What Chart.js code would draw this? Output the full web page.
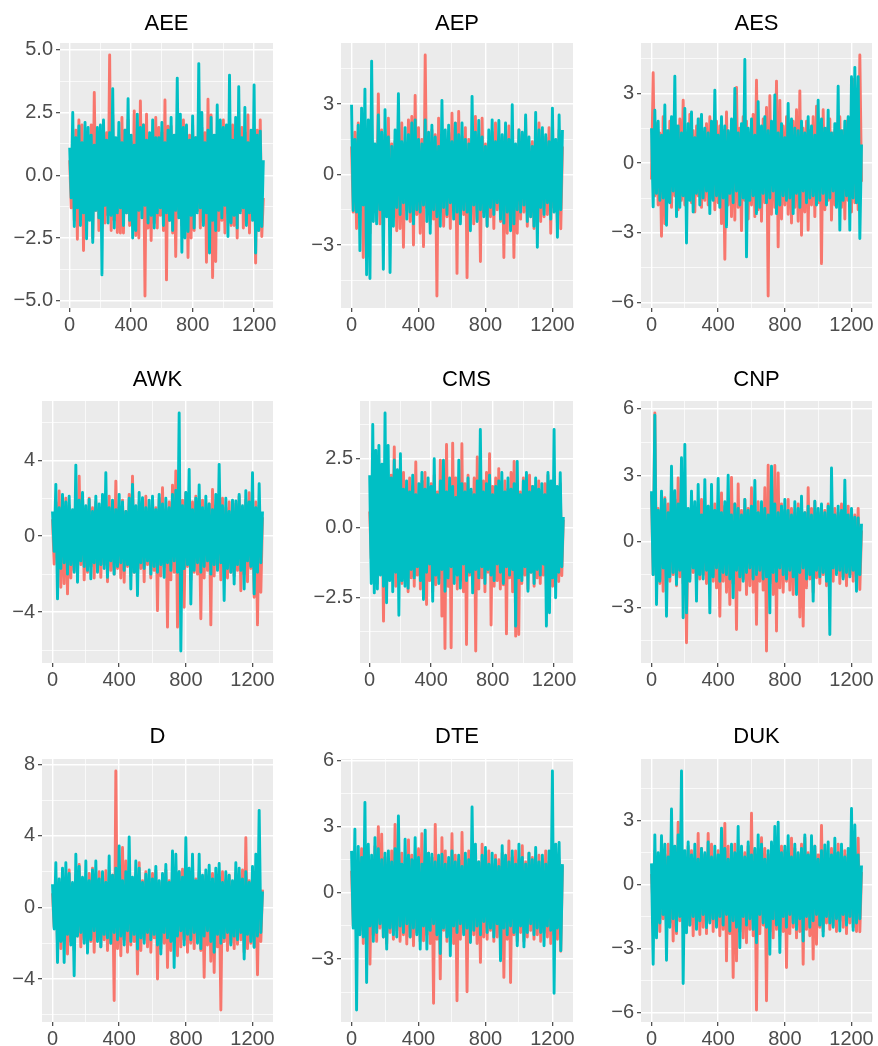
<!DOCTYPE html>
<html>
<head>
<meta charset="utf-8">
<title>Standardised daily residuals</title>
<script src="https://cdn.jsdelivr.net/npm/chart.js@4.4.1/dist/chart.umd.min.js"></script>
<style>
  html, body { margin: 0; padding: 0; background: #ffffff; }
  #page { position: relative; width: 878px; height: 1046px; overflow: hidden; }
  #page canvas { position: absolute; }
</style>
</head>
<body>
<div id="page"></div>
<script>
// Trading-day index of each sample (one sample every 10 sessions).
const days = [0,10,20,30,40,50,60,70,80,90,100,110,120,130,140,150,160,170,180,190,
  200,210,220,230,240,250,260,270,280,290,300,310,320,330,340,350,360,370,380,390,
  400,410,420,430,440,450,460,470,480,490,500,510,520,530,540,550,560,570,580,590,
  600,610,620,630,640,650,660,670,680,690,700,710,720,730,740,750,760,770,780,790,
  800,810,820,830,840,850,860,870,880,890,900,910,920,930,940,950,960,970,980,990,
  1000,1010,1020,1030,1040,1050,1060,1070,1080,1090,1100,1110,1120,1130,1140,1150,1160,1170,1180,1190,
  1200,1210,1220,1230,1240,1250,1260];
const dayTicks = [0, 400, 800, 1200];

// ---- AEE ----
const AEE_s1 = [0.6,-1.3,1.4,-1.8,1.8,-2.55,2.2,-1.5,2.0,-3.0,
  1.3,-2.0,1.6,-1.7,2.0,-2.5,3.3,-1.4,1.5,-2.2,
  1.2,-2.1,1.9,-1.9,1.7,-1.6,4.79,-2.2,2.4,-1.8,
  1.3,-2.28,1.4,-2.3,2.3,-2.3,1.8,-1.5,2.2,-2.0,
  1.3,-1.7,2.56,-2.4,1.6,-2.5,2.96,-1.4,2.0,-4.81,
  2.43,-2.1,1.5,-2.6,1.2,-1.9,2.3,-2.1,1.9,-1.6,
  1.7,-2.2,3.0,-4.17,1.95,-1.8,1.95,-2.3,1.3,-3.24,
  1.4,-1.5,1.8,-2.0,2.2,-1.7,1.3,-3.28,1.6,-2.5,
  2.0,-2.2,1.5,-1.4,1.2,-2.1,1.9,-1.9,1.7,-3.47,
  3.03,-1.6,2.4,-4.08,1.3,-3.44,1.4,-2.2,1.8,-1.8,
  2.2,-2.3,1.3,-1.5,1.6,-2.0,2.0,-2.0,1.5,-2.5,
  1.2,-1.4,1.9,-2.1,1.7,-1.9,2.4,-2.3,1.3,-1.6,
  1.4,-3.5,1.8,-2.2,2.2,-2.44,-0.9];
const AEE_s2 = [1.1,-0.9,2.5,-2.04,1.5,-1.3,1.96,-2.0,1.3,-1.5,
  2.1,-2.53,1.9,-1.8,1.6,-2.68,1.2,-1.4,1.9,-1.7,
  2.0,-3.97,2.2,-1.2,1.4,-1.9,1.7,-1.6,3.45,-2.1,
  1.5,-1.5,2.1,-1.3,1.3,-2.0,1.8,-1.5,3.05,-1.8,
  1.6,-2.5,1.2,-2.2,2.43,-1.4,1.9,-1.7,2.0,-1.2,
  1.4,-1.9,1.7,-1.6,2.2,-2.1,1.5,-1.5,1.5,-1.3,
  2.1,-2.0,1.3,-1.5,1.8,-1.8,2.3,-2.2,1.6,-1.4,
  3.87,-1.7,2.43,-3.07,1.9,-2.5,2.0,-2.24,1.4,-1.6,
  2.36,-2.1,1.5,-1.5,4.45,-1.3,2.5,-2.0,1.3,-1.5,
  1.8,-3.1,2.3,-1.8,1.6,-2.2,2.8,-1.4,2.2,-1.7,
  1.9,-1.2,2.0,-2.44,3.99,-1.9,1.4,-1.6,2.3,-2.1,
  3.53,-1.5,1.5,-1.3,2.7,-2.0,1.3,-1.5,1.8,-1.8,
  3.6,-3.1,1.6,-2.2,1.76,-2.04,0.6];
const AEE_yTicks = [-5, -2.5, 0, 2.5, 5];

// ---- AEP ----
const AEP_s1 = [1.2,-1.6,1.8,-2.3,2.2,-1.5,1.3,-3.53,1.6,-1.7,
  2.0,-2.5,1.5,-1.4,1.2,-2.0,3.43,-2.1,1.9,-1.9,
  1.7,-1.6,2.4,-2.2,1.3,-1.8,1.4,-2.39,1.8,-2.3,
  2.2,-3.1,1.3,-1.5,2.33,-2.0,2.47,-3.0,3.37,-1.7,
  2.0,-2.5,1.5,-3.07,5.09,-1.4,1.2,-2.1,1.9,-1.9,
  1.7,-5.17,2.4,-1.6,1.3,-2.2,1.4,-1.8,1.8,-2.3,
  2.61,-1.5,2.2,-4.21,2.69,-2.0,1.6,-1.7,2.0,-4.39,
  1.5,-1.4,1.2,-2.1,2.47,-1.9,1.7,-3.7,2.4,-1.6,
  1.3,-2.2,1.4,-1.8,1.8,-2.3,2.2,-1.5,1.3,-2.0,
  1.6,-3.53,2.0,-2.5,2.07,-1.4,1.5,-3.53,1.2,-2.5,
  1.9,-1.9,1.7,-1.6,2.4,-2.2,1.3,-1.8,1.4,-2.3,
  1.8,-1.5,2.2,-2.0,1.3,-1.8,1.6,-1.7,2.0,-2.5,
  1.5,-1.4,1.2,-2.1,1.9,-2.31,1.2];
const AEP_s2 = [2.97,-1.53,1.5,-1.6,2.1,-3.24,2.83,-1.3,3.64,-4.27,
  2.33,-4.43,4.83,-2.0,1.3,-2.1,2.54,-1.5,1.8,-4.03,
  2.76,-1.8,1.6,-4.17,1.2,-2.2,1.9,-1.4,3.44,-1.7,
  1.4,-1.2,2.0,-1.9,1.7,-1.6,2.2,-2.1,2.33,-1.5,
  1.5,-1.6,1.3,-1.3,2.33,-2.0,1.8,-2.5,2.1,-1.5,
  1.6,-1.8,1.2,-2.2,3.16,-1.4,1.9,-1.7,2.1,-1.2,
  1.4,-1.9,2.19,-1.6,1.7,-2.1,2.2,-1.5,1.5,-1.6,
  1.3,-2.39,3.33,-1.3,1.8,-2.0,2.3,-1.5,1.6,-1.8,
  1.2,-2.2,1.9,-1.4,2.33,-1.7,1.4,-1.2,2.3,-1.9,
  1.7,-2.07,2.2,-1.6,1.5,-2.39,2.97,-2.1,1.3,-1.5,
  1.9,-1.6,1.8,-1.3,2.54,-2.0,1.6,-1.8,1.2,-2.2,
  2.64,-3.1,1.9,-1.4,2.0,-1.7,1.7,-1.2,1.4,-1.9,
  2.83,-1.6,1.5,-2.67,2.54,-1.5,1.9];
const AEP_yTicks = [-3, 0, 3];

// ---- AES ----
const AES_s1 = [-0.7,3.89,-1.4,1.7,-1.8,1.3,-3.14,2.0,-2.6,1.4,
  -1.5,1.8,-1.9,1.2,-1.4,1.6,-2.0,1.9,-1.6,2.71,
  -1.8,1.3,-1.5,2.1,-1.7,1.4,-2.1,1.6,-1.4,1.9,
  -1.9,1.2,-1.6,1.7,-1.8,2.0,-1.5,1.3,-2.0,1.8,
  -1.7,1.6,-2.6,1.4,-4.13,2.2,-1.8,1.3,-2.3,1.7,
  -2.45,3.26,-1.9,1.5,-2.9,2.0,-1.6,1.8,-2.4,1.3,
  -1.8,2.1,-2.3,3.57,-2.0,1.4,-2.5,1.9,-1.7,2.4,
  -5.71,2.9,-2.2,1.5,-1.9,3.53,-3.6,2.7,-2.4,1.6,
  -1.8,2.0,-2.2,1.3,-2.57,1.8,-1.9,2.3,-2.5,3.11,
  -3.1,1.5,-2.1,1.8,-2.88,1.4,-1.8,2.0,-2.3,2.45,
  -1.7,1.6,-4.32,2.3,-2.0,1.5,-1.6,1.9,-2.45,1.3,
  -1.8,1.7,-1.5,2.0,-1.9,1.4,-2.4,1.8,-1.6,1.5,
  -2.1,3.6,-1.7,1.9,-2.0,4.65,-0.8];
const AES_s2 = [1.5,-1.88,2.28,-1.3,1.8,-1.6,1.2,-1.5,2.5,-2.67,
  1.4,-1.7,2.0,-1.2,3.74,-2.3,1.6,-1.9,1.3,-1.4,
  2.35,-3.43,1.7,-1.6,2.2,-2.1,1.1,-1.3,1.9,-1.8,
  2.1,-1.5,1.5,-1.2,1.3,-2.17,1.8,-1.6,3.14,-1.4,
  1.2,-1.9,2.0,-1.5,1.6,-2.74,1.4,-1.3,1.9,-1.7,
  3.21,-1.2,1.3,-1.8,1.7,-1.5,4.46,-4.03,1.5,-1.6,
  1.9,-1.4,1.2,-2.17,2.64,-1.9,1.6,-1.3,2.0,-1.7,
  1.4,-1.5,1.8,-1.2,2.93,-2.17,1.3,-1.8,1.7,-1.4,
  1.1,-1.6,2.57,-1.5,1.9,-2.17,1.5,-1.3,1.4,-1.9,
  1.8,-1.2,1.3,-1.7,2.0,-1.5,1.6,-1.4,1.2,-1.8,
  2.71,-1.6,1.9,-1.3,1.5,-1.8,2.28,-1.5,1.3,-1.2,
  1.7,-1.9,3.31,-2.88,1.4,-1.6,1.8,-1.4,2.0,-2.88,
  3.72,-1.5,4.12,-1.7,3.72,-3.24,0.8];
const AES_yTicks = [-6, -3, 0, 3];

// ---- AWK ----
const AWK_s1 = [0.9,-1.47,1.8,-1.6,2.38,-2.69,1.4,-2.5,2.0,-3.04,
  1.6,-2.2,1.3,-1.8,1.9,-2.0,3.16,-1.5,2.1,-2.3,
  1.4,-1.9,2.0,-1.6,1.5,-2.2,1.8,-1.7,1.3,-2.17,
  1.9,-1.5,1.6,-2.4,2.1,-1.8,1.4,-2.0,2.9,-1.7,
  1.5,-2.2,1.9,-2.43,1.3,-1.6,2.2,-2.1,3.16,-1.9,
  1.4,-2.3,1.8,-1.7,1.6,-2.4,2.1,-1.5,1.3,-2.2,
  1.9,-1.8,1.5,-3.92,2.0,-2.1,2.55,-1.6,1.4,-4.79,
  1.8,-2.3,2.69,-1.9,3.43,-4.79,1.6,-2.2,1.9,-3.74,
  2.29,-1.6,1.4,-2.3,1.8,-1.9,2.1,-2.0,1.5,-4.35,
  1.9,-2.2,1.3,-1.8,1.7,-4.67,2.46,-2.1,1.6,-1.7,
  1.4,-2.3,2.0,-1.6,1.5,-2.2,1.8,-1.9,1.3,-2.1,
  1.7,-1.8,2.1,-2.87,1.4,-2.0,1.9,-2.4,2.29,-1.7,
  1.5,-3.22,1.8,-4.67,1.6,-2.95,1.0];
const AWK_s2 = [1.3,-0.8,2.73,-3.3,1.5,-1.7,2.2,-1.4,1.8,-2.0,
  2.1,-1.5,1.4,-1.9,3.74,-2.43,1.9,-1.3,2.3,-1.6,
  1.6,-1.8,1.94,-2.25,1.3,-1.4,2.1,-1.9,1.7,-1.5,
  2.2,-1.7,3.34,-2.17,1.5,-1.3,1.9,-2.0,1.4,-1.6,
  2.2,-1.4,1.8,-1.8,1.3,-1.5,2.0,-2.78,2.73,-1.9,
  1.6,-3.13,2.3,-1.4,2.03,-1.7,1.5,-1.3,1.9,-2.0,
  2.1,-1.6,1.4,-1.9,2.2,-1.5,1.7,-2.17,2.0,-1.4,
  1.5,-1.8,2.2,-1.3,2.41,-1.9,6.49,-6.05,1.6,-1.7,
  2.3,-1.5,3.51,-3.57,1.4,-1.8,2.0,-1.4,2.7,-1.9,
  1.5,-1.6,2.1,-1.3,1.7,-2.0,1.4,-1.5,2.2,-1.8,
  3.78,-1.4,1.6,-3.39,2.0,-1.7,1.3,-1.9,1.9,-2.52,
  1.85,-1.5,2.2,-1.8,1.6,-2.78,2.4,-1.3,1.8,-1.6,
  3.34,-3.04,1.5,-1.9,2.76,-1.4,1.3];
const AWK_yTicks = [-4, 0, 4];

// ---- CMS ----
const CMS_s1 = [0.6,-1.1,1.4,-1.7,1.8,-2.0,1.66,-1.6,1.3,-3.36,
  1.7,-2.2,1.2,-1.8,1.9,-1.5,2.92,-2.1,1.4,-1.7,
  1.6,-2.0,2.0,-1.6,1.3,-2.3,1.8,-1.8,1.5,-2.1,
  2.38,-1.7,1.2,-2.2,1.7,-1.5,2.0,-2.76,1.4,-1.9,
  1.6,-2.3,1.9,-2.05,1.3,-1.8,2.44,-3.18,1.7,-4.35,
  3.01,-2.1,1.5,-4.32,3.06,-1.6,1.8,-2.2,1.4,-1.9,
  3.04,-2.3,1.6,-4.2,1.9,-1.7,1.3,-2.0,1.8,-4.44,
  2.56,-2.2,1.4,-1.8,1.7,-2.3,2.0,-1.6,2.68,-3.5,
  1.5,-2.1,1.8,-1.9,2.14,-2.2,1.3,-2.05,1.7,-3.82,
  1.4,-1.8,2.0,-2.3,2.4,-3.9,1.6,-3.84,1.3,-2.0,
  1.8,-1.7,1.4,-2.2,1.9,-1.6,1.5,-2.1,1.3,-1.8,
  1.7,-2.0,1.2,-1.7,1.6,-2.2,1.9,-1.5,1.4,-2.1,
  1.5,-1.8,1.3,-1.93,1.6,-1.72,0.3];
const CMS_s2 = [1.9,-2.0,3.73,-2.34,2.8,-2.2,2.98,-1.7,2.3,-2.1,
  4.15,-2.7,2.98,-1.9,1.8,-2.3,2.44,-1.6,2.1,-3.15,
  2.68,-1.9,1.4,-2.1,1.7,-2.17,1.3,-1.5,1.9,-1.8,
  1.2,-1.4,1.6,-1.9,2.0,-2.58,1.4,-1.6,1.8,-1.3,
  1.5,-2.64,2.5,-1.7,1.2,-2.0,1.7,-1.5,2.44,-2.28,
  1.3,-1.8,1.8,-1.4,1.5,-2.0,1.1,-1.7,2.44,-2.17,
  1.6,-1.3,1.3,-1.9,1.8,-1.6,1.4,-2.34,1.2,-1.5,
  1.7,-1.8,3.55,-1.4,1.3,-2.0,1.6,-1.5,1.9,-1.7,
  1.2,-1.9,1.5,-1.3,1.7,-1.6,2.0,-2.0,1.3,-1.4,
  1.8,-1.7,1.4,-1.5,1.6,-3.54,2.4,-1.8,1.2,-1.9,
  1.7,-1.4,2.0,-2.28,1.3,-1.6,1.5,-2.0,1.8,-1.5,
  1.4,-1.7,1.6,-1.3,1.2,-3.54,2.0,-3.06,1.7,-1.8,
  3.55,-2.52,1.5,-1.6,1.99,-1.4,0.4];
const CMS_yTicks = [-2.5, 0, 2.5];

// ---- CNP ----
const CNP_s1 = [2.13,-1.5,5.82,-1.6,1.5,-1.9,1.2,-2.25,1.98,-1.4,
  1.7,-1.8,1.3,-1.5,1.9,-2.0,2.88,-1.6,1.4,-1.9,
  1.6,-4.58,1.2,-1.7,1.8,-1.4,1.5,-2.0,1.3,-1.7,
  1.9,-1.5,1.4,-1.9,1.6,-1.6,1.2,-1.8,1.7,-2.1,
  1.4,-3.38,2.2,-1.8,1.6,-2.3,1.3,-2.85,2.9,-1.9,
  1.7,-3.98,2.6,-2.2,1.4,-1.7,1.9,-2.4,1.5,-2.0,
  2.43,-2.3,1.3,-3.75,1.8,-1.8,1.5,-2.2,2.43,-4.96,
  3.45,-1.9,1.6,-2.4,3.44,-4.05,3.1,-2.1,1.7,-2.3,
  1.4,-1.8,1.9,-2.2,1.5,-2.4,1.3,-1.9,1.7,-3.42,
  1.6,-3.83,1.3,-2.1,2.43,-1.7,1.5,-2.3,1.8,-1.64,
  1.3,-1.9,1.6,-1.5,1.4,-2.0,1.7,-1.6,1.2,-1.8,
  1.5,-1.4,1.3,-1.9,1.7,-1.6,1.2,-2.0,1.6,-1.5,
  1.4,-1.8,1.2,-1.7,1.5,-2.17,0.5];
const CNP_s2 = [2.28,-1.5,5.72,-2.85,1.4,-1.8,2.28,-1.2,1.9,-3.38,
  1.3,-1.6,3.41,-1.4,2.3,-1.95,1.7,-1.3,3.79,-3.45,
  4.39,-3.23,1.5,-1.8,2.28,-1.2,1.8,-2.7,2.58,-1.5,
  1.2,-1.7,2.8,-1.3,1.6,-3.23,2.58,-1.6,1.4,-1.2,
  2.85,-1.8,1.3,-1.4,1.8,-1.5,3.0,-1.7,1.2,-2.55,
  1.7,-1.3,1.5,-1.6,1.2,-1.8,1.9,-1.4,1.4,-1.2,
  1.6,-1.7,2.76,-1.5,1.3,-1.3,1.8,-1.7,1.5,-1.6,
  1.2,-3.23,3.41,-1.4,1.7,-1.8,1.3,-1.2,1.6,-1.5,
  1.9,-1.7,1.4,-1.3,1.2,-1.6,1.8,-2.4,1.5,-1.4,
  2.05,-1.2,1.3,-1.7,1.6,-1.5,1.2,-2.7,1.82,-1.3,
  1.5,-1.6,1.7,-1.4,1.3,-1.8,1.6,-4.21,3.33,-1.2,
  1.2,-1.5,1.6,-1.3,1.4,-1.7,2.78,-1.4,1.2,-1.6,
  1.5,-1.3,1.1,-2.25,1.07,-1.5,0.8];
const CNP_yTicks = [-3, 0, 3, 6];

// ---- D ----
const D_s1 = [0.8,-1.1,1.7,-2.0,1.4,-2.3,1.9,-1.7,1.5,-2.6,
  2.1,-1.9,1.3,-2.4,1.8,-1.6,2.4,-2.2,1.6,-1.8,
  1.4,-2.3,1.9,-1.9,2.2,-2.5,1.5,-1.7,2.0,-2.2,
  1.7,-1.8,2.05,-2.4,1.4,-2.0,1.8,-5.2,7.63,-2.3,
  1.6,-2.7,3.35,-1.8,2.6,-2.5,1.9,-2.1,1.4,-1.9,
  1.8,-3.72,2.5,-2.4,1.5,-1.8,2.0,-2.2,1.6,-2.5,
  1.9,-1.7,2.05,-4.0,1.4,-2.3,1.7,-2.0,2.1,-3.35,
  1.5,-2.4,1.8,-1.9,1.6,-2.7,2.0,-2.2,2.14,-1.8,
  1.7,-2.5,1.4,-2.0,1.9,-2.3,1.6,-1.7,2.0,-2.4,
  1.5,-3.9,1.8,-2.1,1.4,-3.0,1.9,-3.63,1.6,-2.2,
  1.7,-5.73,2.0,-1.9,1.5,-2.4,1.8,-2.0,1.4,-2.3,
  1.9,-2.05,1.6,-1.8,2.1,-2.5,3.9,-2.3,1.5,-2.0,
  1.8,-2.2,1.4,-3.76,1.7,-1.9,1.0];
const D_s2 = [1.3,-1.2,2.5,-3.07,1.6,-1.9,2.2,-3.07,2.5,-1.5,
  1.9,-2.1,1.4,-3.81,2.98,-1.6,2.3,-1.4,1.7,-2.0,
  2.6,-2.55,1.5,-1.8,2.1,-1.3,2.6,-1.9,1.6,-2.2,
  2.0,-1.5,1.4,-1.7,2.88,-2.0,1.8,-1.4,2.2,-1.8,
  3.44,-1.6,1.5,-2.1,2.0,-1.3,3.94,-1.9,1.7,-1.5,
  2.6,-2.32,2.2,-1.7,1.4,-2.0,1.86,-1.4,2.1,-1.8,
  1.6,-1.5,2.3,-2.1,1.5,-2.6,1.9,-1.4,2.4,-1.7,
  1.4,-1.9,3.16,-3.35,2.98,-1.6,2.0,-1.3,1.7,-2.1,
  3.9,-1.5,2.2,-1.8,2.98,-1.4,1.5,-2.0,2.98,-2.3,
  1.8,-1.6,2.1,-1.3,2.36,-1.9,1.6,-2.5,2.2,-1.5,
  2.46,-2.0,1.4,-1.7,2.0,-1.4,1.8,-2.1,1.5,-1.6,
  2.5,-1.8,2.2,-1.4,1.6,-2.88,2.0,-1.5,1.4,-1.9,
  2.3,-2.23,2.98,-1.6,5.43,-1.4,0.9];
const D_yTicks = [-4, 0, 4, 8];

// ---- DTE ----
const DTE_s1 = [1.0,-1.5,1.8,-2.1,1.4,-1.7,2.0,-2.3,1.5,-1.8,
  1.7,-3.23,1.3,-1.9,2.1,-2.2,2.99,-1.6,2.65,-2.0,
  1.6,-2.3,1.4,-1.8,1.9,-2.1,3.1,-1.7,1.5,-2.2,
  1.8,-1.9,1.3,-2.32,2.4,-2.0,1.7,-2.4,1.5,-1.8,
  2.0,-2.2,2.68,-2.17,1.4,-1.9,1.8,-2.3,1.6,-5.0,
  3.1,-2.1,1.5,-3.9,2.5,-1.7,1.9,-2.2,1.4,-2.0,
  2.68,-2.3,1.7,-4.89,1.5,-2.1,2.73,-1.8,1.3,-4.48,
  1.9,-2.2,1.5,-1.9,1.8,-2.3,1.4,-3.15,2.2,-2.0,
  1.6,-2.1,1.9,-1.7,1.3,-2.2,1.7,-2.0,1.5,-2.3,
  1.8,-3.83,1.4,-2.1,2.35,-4.06,1.6,-1.9,1.9,-2.2,
  1.5,-1.8,2.13,-2.2,1.4,-2.0,1.8,-1.7,1.6,-2.1,
  1.3,-1.9,1.7,-2.2,1.5,-1.8,1.9,-2.0,1.4,-2.3,
  1.6,-1.9,1.8,-2.1,1.5,-2.65,1.2];
const DTE_s2 = [1.9,-1.6,2.88,-5.31,2.1,-1.9,1.6,-2.0,4.09,-4.06,
  2.2,-1.5,1.7,-2.2,2.5,-1.8,2.0,-1.4,1.5,-2.0,
  1.8,-2.55,1.9,-1.6,1.4,-1.9,2.0,-2.0,3.48,-1.5,
  1.3,-1.8,2.43,-1.4,1.7,-2.0,1.5,-1.6,2.5,-1.9,
  1.6,-2.55,1.3,-1.5,2.84,-2.55,1.8,-1.7,1.75,-1.4,
  1.4,-1.9,1.7,-2.75,1.75,-1.6,1.3,-2.0,1.6,-2.85,
  1.9,-1.5,1.4,-1.8,1.7,-1.4,1.2,-1.9,1.8,-1.6,
  1.5,-2.25,3.89,-1.7,2.2,-1.5,1.4,-1.9,1.7,-1.3,
  2.05,-1.8,1.3,-1.6,1.8,-2.0,1.5,-1.4,1.2,-3.08,
  2.13,-1.6,1.7,-1.9,1.4,-1.5,1.9,-1.8,1.3,-2.4,
  2.2,-1.5,1.6,-2.45,1.3,-1.8,1.8,-1.4,1.5,-1.9,
  2.05,-1.6,1.4,-1.8,1.7,-2.4,1.3,-1.5,1.9,-1.7,
  5.52,-4.55,2.2,-1.6,2.28,-2.62,1.3];
const DTE_yTicks = [-3, 0, 3, 6];

// ---- DUK ----
const DUK_s1 = [0.5,-1.2,1.6,-1.9,1.3,-2.2,1.8,-1.6,1.4,-2.1,
  1.9,-1.8,1.2,-2.65,1.7,-2.3,2.93,-1.7,1.5,-2.0,
  1.3,-2.2,1.8,-1.9,1.6,-2.4,1.2,-1.8,2.4,-2.34,
  1.7,-2.0,1.4,-2.3,2.4,-1.7,1.9,-2.2,1.3,-1.9,
  1.6,-2.4,1.2,-2.1,2.88,-3.58,1.8,-2.3,1.4,-4.36,
  1.9,-3.58,1.3,-2.2,1.7,-2.5,1.5,-2.73,1.8,-2.1,
  3.35,-2.4,1.6,-5.89,1.3,-2.3,2.2,-1.9,1.7,-5.45,
  1.4,-2.2,1.9,-2.5,1.5,-2.1,1.3,-2.4,1.8,-2.2,
  1.6,-3.89,1.2,-2.3,2.18,-2.0,1.7,-2.5,1.4,-2.2,
  1.9,-3.74,2.2,-2.1,1.5,-2.4,1.3,-3.5,1.8,-2.8,
  1.4,-2.0,2.78,-2.2,1.6,-1.8,1.2,-2.1,1.7,-1.9,
  1.5,-2.2,1.9,-1.7,1.3,-2.0,1.6,-2.3,1.4,-1.8,
  1.8,-2.0,1.5,-2.2,2.18,-2.21,0.6];
const DUK_s2 = [1.0,-3.74,2.34,-2.5,1.5,-1.8,2.3,-1.4,1.9,-3.55,
  1.3,-2.0,3.55,-1.6,1.8,-2.18,2.34,-1.5,5.34,-4.64,
  1.6,-2.26,2.0,-1.9,1.4,-1.5,1.9,-2.1,1.2,-1.7,
  1.7,-1.4,1.5,-2.02,2.0,-1.8,1.3,-1.6,1.8,-2.0,
  1.4,-1.5,2.65,-1.9,1.7,-1.4,1.2,-2.18,1.9,-1.7,
  1.5,-2.0,2.73,-2.96,1.8,-1.5,1.3,-1.9,2.0,-1.6,
  1.4,-2.1,1.7,-2.73,2.34,-1.4,1.9,-1.8,1.2,-2.0,
  1.6,-3.27,2.0,-1.6,2.73,-1.9,2.93,-3.19,1.5,-1.5,
  1.8,-2.0,2.3,-1.4,1.3,-1.8,1.9,-2.1,1.5,-1.6,
  1.7,-2.65,2.34,-1.5,1.4,-2.0,2.3,-1.7,1.8,-1.4,
  1.2,-1.9,1.6,-2.41,1.87,-1.5,2.0,-1.8,1.4,-2.0,
  2.18,-1.6,1.5,-2.18,1.9,-1.4,1.3,-1.9,1.7,-1.5,
  3.58,-2.15,2.8,-1.8,1.4,-1.6,0.9];
const DUK_yTicks = [-6, -3, 0, 3];

// ---------------------------------------------------------------------------
const panels = [
  { name: 'AEE', s1: AEE_s1, s2: AEE_s2, yTicks: AEE_yTicks },
  { name: 'AEP', s1: AEP_s1, s2: AEP_s2, yTicks: AEP_yTicks },
  { name: 'AES', s1: AES_s1, s2: AES_s2, yTicks: AES_yTicks },
  { name: 'AWK', s1: AWK_s1, s2: AWK_s2, yTicks: AWK_yTicks },
  { name: 'CMS', s1: CMS_s1, s2: CMS_s2, yTicks: CMS_yTicks },
  { name: 'CNP', s1: CNP_s1, s2: CNP_s2, yTicks: CNP_yTicks },
  { name: 'D',   s1: D_s1,   s2: D_s2,   yTicks: D_yTicks },
  { name: 'DTE', s1: DTE_s1, s2: DTE_s2, yTicks: DTE_yTicks },
  { name: 'DUK', s1: DUK_s1, s2: DUK_s2, yTicks: DUK_yTicks }
];

// Page grid: canvas cells, and the panel (plot area) edges inside them.
const cellCols = [[0, 293], [293, 590], [590, 878]];
const cellRows = [[0, 350], [350, 705], [705, 1046]];
const panelLeft = [60, 341, 641, 42, 360, 641, 42, 341, 641];
const panelRight = [273, 573, 872];
const panelTop = [43, 401, 759];
const panelBottom = [308, 663, 1022];
const titleMid = [24, 380, 737];

const COL_S1 = '#F8766D';
const COL_S2 = '#00BFC4';
const FONT = '"Liberation Sans", Arial, Helvetica, sans-serif';

// grey panel background behind the grid
const panelBg = {
  id: 'panelBg',
  beforeDraw(chart) {
    const { ctx, chartArea: a } = chart;
    ctx.save();
    ctx.fillStyle = '#EBEBEB';
    ctx.fillRect(a.left, a.top, a.right - a.left, a.bottom - a.top);
    ctx.restore();
  }
};

// centred title above the panel
const panelTitle = {
  id: 'panelTitle',
  afterDraw(chart, args, opts) {
    const { ctx, chartArea: a } = chart;
    ctx.save();
    ctx.font = '22px ' + FONT;
    ctx.fillStyle = '#000000';
    ctx.textAlign = 'center';
    ctx.textBaseline = 'middle';
    ctx.fillText(opts.text, (a.left + a.right) / 2, opts.y);
    ctx.restore();
  }
};

// major ticks plus minor grid positions halfway between them
function tickSet(majors, lo, hi) {
  const step = majors[1] - majors[0];
  const out = majors.filter(v => v >= lo && v <= hi).map(v => ({ value: v }));
  for (let v = majors[0] - step / 2; v <= majors[majors.length - 1] + step / 2 + 1e-9; v += step) {
    if (v >= lo && v <= hi) out.push({ value: v, minor: true });
  }
  return out.sort((a, b) => a.value - b.value);
}

function expandRange(values) {
  const lo = Math.min(...values), hi = Math.max(...values);
  const pad = (hi - lo) * 0.05;
  return [lo - pad, hi + pad];
}

function label(v, decimals) {
  const s = Math.abs(v).toFixed(decimals);
  return (v < -1e-9 ? '\u2212' : '') + s;
}

const gridOpts = {
  color: '#FFFFFF',
  lineWidth: c => (c.tick && c.tick.minor ? 0.7 : 1.4),
  tickColor: c => (c.tick && c.tick.minor ? 'rgba(0,0,0,0)' : '#333333'),
  tickLength: 4,
  tickWidth: 1.1,
  drawTicks: true,
  drawOnChartArea: true
};

const page = document.getElementById('page');

panels.forEach((p, k) => {
  const col = k % 3, row = Math.floor(k / 3);
  const cx = cellCols[col][0], cw = cellCols[col][1] - cellCols[col][0];
  const cy = cellRows[row][0], ch = cellRows[row][1] - cellRows[row][0];

  const canvas = document.createElement('canvas');
  canvas.width = cw; canvas.height = ch;
  canvas.style.left = cx + 'px'; canvas.style.top = cy + 'px';
  canvas.style.width = cw + 'px'; canvas.style.height = ch + 'px';
  page.appendChild(canvas);

  const [xMin, xMax] = expandRange(days);
  const [yMin, yMax] = expandRange(p.s1.concat(p.s2));
  const yDec = p.yTicks.some(v => !Number.isInteger(v)) ? 1 : 0;

  new Chart(canvas, {
    type: 'line',
    data: {
      labels: days,
      datasets: [
        { label: 'series 1', data: p.s1, borderColor: COL_S1, order: 2 },
        { label: 'series 2', data: p.s2, borderColor: COL_S2, order: 1 }
      ]
    },
    options: {
      responsive: false,
      animation: false,
      devicePixelRatio: 1,
      events: [],
      elements: {
        line: { borderWidth: 2.9, tension: 0, borderJoinStyle: 'round', fill: false },
        point: { radius: 0, hoverRadius: 0 }
      },
      layout: {
        padding: {
          left: 0,
          right: (cx + cw) - panelRight[col],
          top: panelTop[row] - cy,
          bottom: 0
        }
      },
      plugins: {
        legend: { display: false },
        tooltip: { enabled: false },
        title: { display: false },
        panelTitle: { text: p.name, y: titleMid[row] - cy }
      },
      scales: {
        x: {
          type: 'linear',
          min: xMin,
          max: xMax,
          afterBuildTicks: ax => { ax.ticks = tickSet(dayTicks, xMin, xMax); },
          afterFit: ax => { ax.height = (cy + ch) - panelBottom[row]; },
          border: { display: false },
          grid: gridOpts,
          ticks: {
            autoSkip: false,
            maxRotation: 0,
            minRotation: 0,
            padding: 1,
            color: '#4D4D4D',
            font: { family: FONT, size: 20, lineHeight: 1.2 },
            callback: (v, i, t) => (t[i].minor ? '' : label(v, 0))
          }
        },
        y: {
          type: 'linear',
          min: yMin,
          max: yMax,
          afterBuildTicks: ax => { ax.ticks = tickSet(p.yTicks, yMin, yMax); },
          afterFit: ax => { ax.width = panelLeft[k] - cx; },
          border: { display: false },
          grid: gridOpts,
          ticks: {
            autoSkip: false,
            padding: 3,
            color: '#4D4D4D',
            font: { family: FONT, size: 20 },
            callback: (v, i, t) => (t[i].minor ? '' : label(v, yDec))
          }
        }
      }
    },
    plugins: [panelBg, panelTitle]
  });
});
</script>
</body>
</html>
